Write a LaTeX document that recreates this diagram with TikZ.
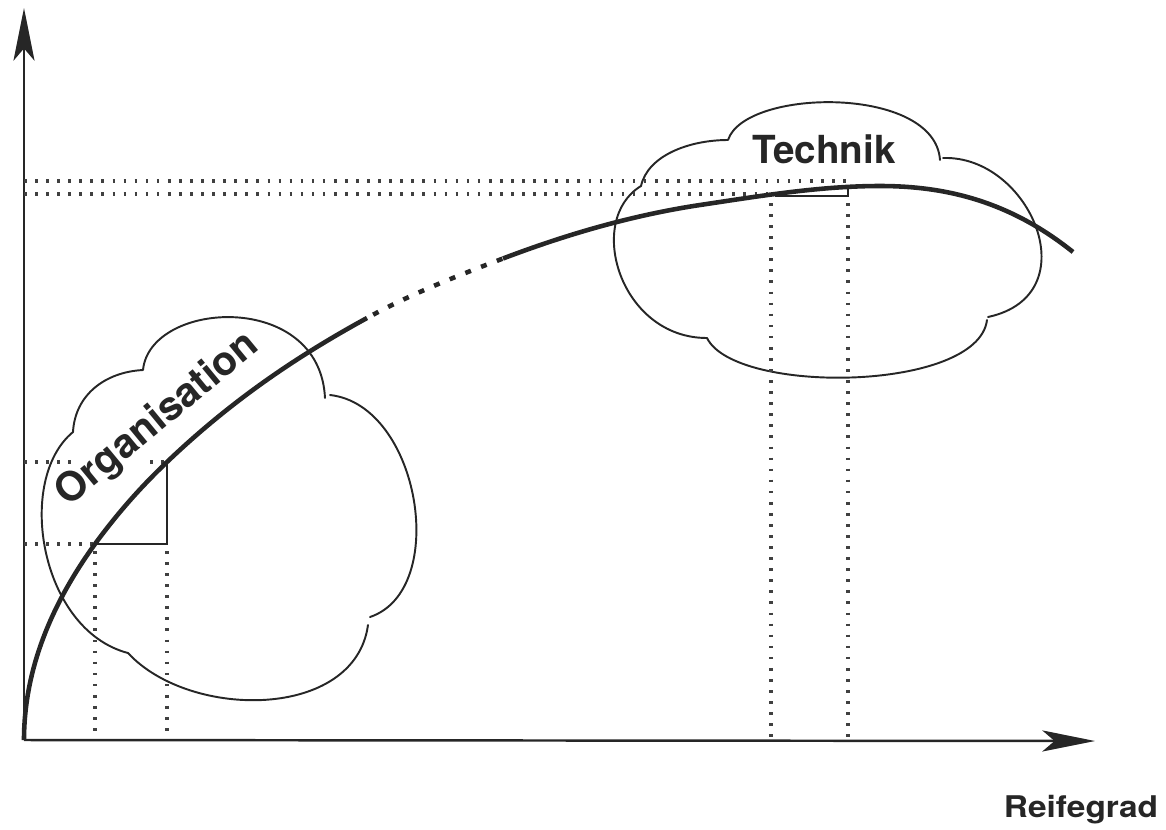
\documentclass[tikz,border=0pt]{standalone}
\usepackage{fontspec}
\newfontfamily\labelfont{TeX Gyre Heros}
\usetikzlibrary{arrows.meta}
\begin{document}
\begin{tikzpicture}[x=0.02cm,y=-0.02cm,
  axis/.style={line width=1.4pt, draw=black!85, -{Stealth[length=30pt,width=12pt,inset=7pt]}},
  curveline/.style={line width=2.6pt, draw=black!85},
  cloudline/.style={line width=1.1pt, draw=black!85, line join=round, line cap=round},
  dotline/.style={line width=2.8pt, draw=black!75, dash pattern=on 1.5pt off 4.8pt},
  markline/.style={line width=1.3pt, draw=black!85},
  biglbl/.style={font=\labelfont\bfseries\fontsize{22}{26}\selectfont, text=black!85, inner sep=0pt},
  orglbl/.style={font=\labelfont\bfseries\fontsize{23}{27}\selectfont, text=black!85, inner sep=0pt},
  axislbl/.style={font=\labelfont\bfseries\fontsize{17}{20}\selectfont, text=black!85, inner sep=0pt}]
\useasboundingbox (0,0) rectangle (1166,829);

% axes
\coordinate (O) at (24,740);
\coordinate (ytip) at (24,8);
\coordinate (xtip) at (1095,741);
\draw[axis] (O) -- (ytip);
\draw[axis] (O) -- (xtip);

% clouds
\draw[cloudline] (143,370) .. controls (150,300) and (320,290) .. (325,398)
  (330,395) .. controls (420,405) and (450,590) .. (370,617)
  (368,625) .. controls (355,720) and (190,720) .. (128,653)
  .. controls (40,630) and (15,480) .. (73,432)
  .. controls (75,395) and (105,372) .. (143,370);
\draw[cloudline] (728,140) .. controls (745,88) and (935,85) .. (940,160)
  (943,158) .. controls (1030,155) and (1090,295) .. (988,317)
  (987,320) .. controls (978,392) and (735,395) .. (707,338)
  .. controls (620,338) and (585,220) .. (641,186)
  .. controls (648,155) and (690,140) .. (728,140);

% dotted guide lines, Organisation
\draw[dotline] (24,544) -- (95,544);
\draw[dotline] (24,462) -- (74,462);
\draw[dotline] (150,462) -- (165,462);
\draw[dotline] (95,551) -- (95,739);
\draw[dotline] (167,551) -- (167,739);
\draw[markline] (95,544) -- (167,544) -- (167,462);

% dotted guide lines, Technik
\draw[dotline] (24,181) -- (848,181);
\draw[dotline] (24,194) -- (771,194);
\draw[dotline] (771,203) -- (771,739);
\draw[dotline] (848,203) -- (848,739);
\draw[markline] (775,196) -- (848,196) -- (848,187);

% maturity curve
\draw[curveline] (24,740) .. controls (24,674.7) and (47.7,609.3) .. (95,544)
  .. controls (119,511.1) and (143,484.9) .. (167,462)
  .. controls (233.7,398.3) and (300.3,354.5) .. (367,318);
\draw[curveline, dash pattern=on 3.4pt off 6.2pt, dash phase=5.6pt]
  (367,318) .. controls (412.3,293.2) and (457.7,275.7) .. (503,258.5);
\draw[curveline] (503,258.5) .. controls (568.7,233.5) and (634.3,214.9) .. (700,205)
  .. controls (760,196) and (820,186) .. (880,186)
  .. controls (944.3,186) and (1008.7,200.5) .. (1073,252);

% labels
\node[biglbl, anchor=base] (technik) at (824,163) {Technik};
\node[orglbl, rotate=39.5] (organisation) at (158,420) {Organisation};
\node[axislbl, xscale=1.12, anchor=base] (reifegrad) at (1081,817) {Reifegrad};
\end{tikzpicture}
\end{document}
